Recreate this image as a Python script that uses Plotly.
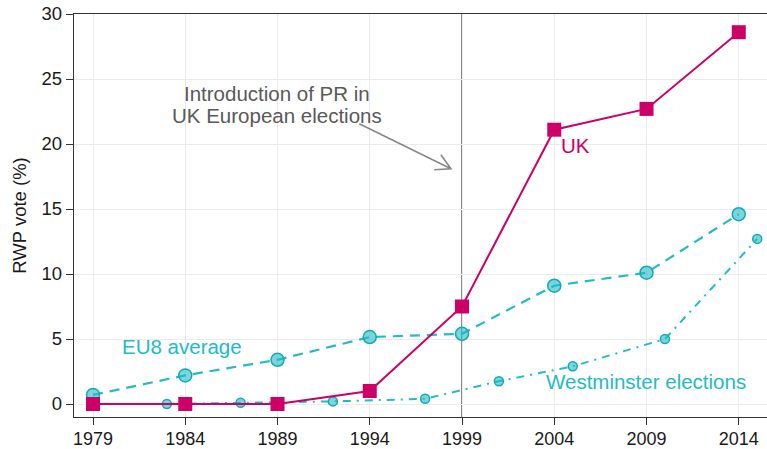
import plotly.graph_objects as go

# ---- data ----
eu_years = [1979, 1984, 1989, 1994, 1999, 2004, 2009, 2014]
uk_vote = [0.0, 0.0, 0.0, 1.0, 7.5, 21.1, 22.7, 28.6]
eu8_avg = [0.7, 2.2, 3.4, 5.15, 5.4, 9.1, 10.1, 14.6]
west_years = [1983, 1987, 1992, 1997, 2001, 2005, 2010, 2015]
west_vote = [0.0, 0.1, 0.2, 0.4, 1.75, 2.9, 5.0, 12.7]
x_ticks = [1979, 1984, 1989, 1994, 1999, 2004, 2009, 2014]
y_ticks = [0, 5, 10, 15, 20, 25, 30]
pr_year = 1999

MAGENTA = "#CC0066"
TEAL = "#22BBC6"
TEAL_DARK = "#15A9B4"
TEAL_FILL = "rgba(34,187,198,0.6)"
FONT = "Liberation Sans, Arial, Helvetica, sans-serif"

fig = go.Figure()

fig.add_trace(go.Scatter(
    x=eu_years, y=eu8_avg, mode="lines+markers", name="EU8 average",
    line=dict(color=TEAL, width=2.2, dash="10px,7px"),
    marker=dict(symbol="circle", size=13, color=TEAL_FILL,
                line=dict(color=TEAL_DARK, width=1.5)),
    showlegend=False, cliponaxis=False))

fig.add_trace(go.Scatter(
    x=west_years, y=west_vote, mode="lines+markers", name="Westminster elections",
    line=dict(color=TEAL, width=2, dash="8px,6px,2px,6px"),
    marker=dict(symbol="circle", size=9, color=TEAL_FILL,
                line=dict(color=TEAL_DARK, width=1.5)),
    showlegend=False, cliponaxis=False))

fig.add_trace(go.Scatter(
    x=eu_years, y=uk_vote, mode="lines+markers", name="UK",
    line=dict(color=MAGENTA, width=2),
    marker=dict(symbol="square", size=14, color=MAGENTA),
    showlegend=False, cliponaxis=False))

# vertical line at PR introduction
fig.add_shape(type="line", xref="x", yref="paper", x0=pr_year, x1=pr_year,
              y0=0, y1=1, line=dict(color="#8A8A8A", width=2), layer="below")

# arrow (open chevron head), anchored at tip in data coords, drawn in pixels
fig.add_shape(type="path", xref="x", yref="y", xsizemode="pixel", ysizemode="pixel",
              xanchor=1998.4, yanchor=18.1,
              path="M-91.7,45 L0,0 M-10,14 L0,0 L-16.7,-1",
              line=dict(color="#888888", width=1.6))

ann_font = dict(family=FONT, size=20.5)
fig.add_annotation(x=1988.98, y=23.92, text="Introduction of PR in", showarrow=False,
                   xanchor="center", yanchor="middle", font=dict(ann_font, color="#595959"))
fig.add_annotation(x=1988.98, y=22.22, text="UK European elections", showarrow=False,
                   xanchor="center", yanchor="middle", font=dict(ann_font, color="#595959"))
fig.add_annotation(x=2004.27, y=19.88, text="UK", showarrow=False,
                   xanchor="left", yanchor="middle", font=dict(ann_font, color=MAGENTA))
fig.add_annotation(x=1983.85, y=4.45, text="EU8 average", showarrow=False,
                   xanchor="center", yanchor="middle", font=dict(ann_font, color=TEAL))
fig.add_annotation(x=2008.98, y=1.70, text="Westminster elections", showarrow=False,
                   xanchor="center", yanchor="middle", font=dict(ann_font, color=TEAL))

fig.update_layout(
    width=767, height=449,
    margin=dict(l=74, r=0, t=14, b=32, autoexpand=False),
    paper_bgcolor="white", plot_bgcolor="white",
    font=dict(family=FONT, size=18.5, color="#1a1a1a"),
    xaxis=dict(range=[1977.97, 2015.53], tickvals=x_ticks,
               ticktext=[str(v) for v in x_ticks], automargin=False,
               showgrid=True, gridcolor="#EBEBEB", gridwidth=1.4,
               showline=True, linecolor="#333333", linewidth=1.3, mirror=True,
               ticks="outside", ticklen=7, tickwidth=1.2, tickcolor="#333333",
               ticklabelstandoff=-2,
               zeroline=False, tickfont=dict(size=18, color="#1a1a1a")),
    yaxis=dict(range=[-1, 30], tickvals=y_ticks, automargin=False,
               showgrid=True, gridcolor="#EBEBEB", gridwidth=1.4,
               showline=True, linecolor="#333333", linewidth=1.3,
               ticks="outside", ticklen=7, tickwidth=1.2, tickcolor="#333333",
               zeroline=False, tickfont=dict(size=18.5, color="#1a1a1a"),
               title=dict(text="RWP vote (%)", font=dict(size=18.5, color="#1a1a1a"),
                          standoff=10)),
)

fig.write_html("out.html", config={"displayModeBar": False},
               post_script="document.body.style.margin='0';document.body.style.overflow='hidden';")
